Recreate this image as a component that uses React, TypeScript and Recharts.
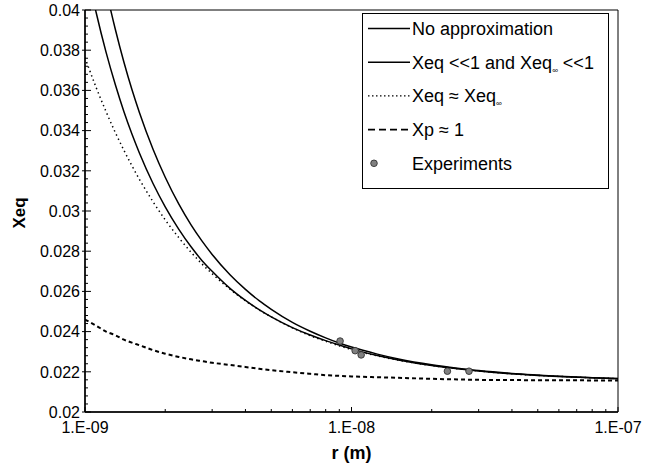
import React from 'react';
import { ComposedChart, Line, Scatter, XAxis, YAxis, ReferenceArea, Legend } from 'recharts';

// ---------- data ----------
const radius = [
  1e-9, 1.1e-9, 1.2e-9, 1.3e-9, 1.4e-9, 1.5e-9, 1.6e-9, 1.8e-9, 2e-9, 2.25e-9, 2.5e-9, 2.75e-9,
  3e-9, 3.5e-9, 4e-9, 4.5e-9, 5e-9, 6e-9, 7e-9, 8e-9, 9e-9, 1e-8, 1.25e-8, 1.5e-8, 2e-8, 2.5e-8,
  3e-8, 4e-8, 5e-8, 6e-8, 7e-8, 8e-8, 1e-7,
];
const noApprox = [
  0.04667, 0.04349, 0.04101, 0.03903, 0.0374, 0.03604, 0.0349, 0.03307, 0.03168, 0.03034, 0.02931, 0.0285,
  0.02784, 0.02683, 0.0261, 0.02554, 0.02511, 0.02446, 0.02402, 0.02369, 0.02343, 0.02323, 0.02288, 0.02264, 0.02235, 0.02218,
  0.02206, 0.02192, 0.02184, 0.02178, 0.02174, 0.02171, 0.02167,
];
const smallXeq = [
  0.04244, 0.0399, 0.03789, 0.03628, 0.03494, 0.03383, 0.03289, 0.03137, 0.03021, 0.02909, 0.02822, 0.02753,
  0.027, 0.02615, 0.02555, 0.02509, 0.02473, 0.0242, 0.02383, 0.02355, 0.02333, 0.02314, 0.02281, 0.02259, 0.02231, 0.02215,
  0.02204, 0.0219, 0.02182, 0.02177, 0.02173, 0.0217, 0.02166,
];
const xeqApprox = [
  0.03763, 0.03616, 0.03494, 0.0339, 0.03302, 0.03225, 0.03158, 0.03046, 0.02956, 0.02867, 0.02795, 0.02736,
  0.02688, 0.02611, 0.02553, 0.02508, 0.02473, 0.02419, 0.0238, 0.02352, 0.02329, 0.02311, 0.02279, 0.02258, 0.02231, 0.02215,
  0.02204, 0.0219, 0.02182, 0.02177, 0.02173, 0.0217, 0.02166,
];
const xpApprox = [
  0.0246, 0.0243, 0.024, 0.02382, 0.0236, 0.02345, 0.02332, 0.02308, 0.0229, 0.02274, 0.02262, 0.02253,
  0.02245, 0.02234, 0.02224, 0.02215, 0.02208, 0.02198, 0.0219, 0.02183, 0.0218, 0.02177, 0.02173, 0.0217, 0.02165, 0.02162,
  0.0216, 0.02159, 0.02158, 0.02158, 0.02158, 0.02157, 0.02157,
];
const expRadius = [9.06e-9, 1.032e-8, 1.087e-8, 2.29e-8, 2.76e-8];
const expXeq = [0.02353, 0.02305, 0.02284, 0.02203, 0.02203];

const xMajorTicks = [1e-9, 1e-8, 1e-7];
const xTickLabels = ['1.E-09', '1.E-08', '1.E-07'];
const xMinorMantissas = [2, 3, 4, 5, 6, 7, 8, 9];
const yMajorTicks = [0.02, 0.022, 0.024, 0.026, 0.028, 0.03, 0.032, 0.034, 0.036, 0.038, 0.04];
const yTickLabels = ['0.02', '0.022', '0.024', '0.026', '0.028', '0.03', '0.032', '0.034', '0.036', '0.038', '0.04'];
const yMinorStep = 0.0004;

// ---------- derived tables ----------
const data = radius.map((r, i) => ({
  r,
  noApprox: noApprox[i],
  smallXeq: smallXeq[i],
  xeqApprox: xeqApprox[i],
  xpApprox: xpApprox[i],
}));
const expData = expRadius.map((r, i) => ({ r, xeq: expXeq[i] }));

const xTicks: number[] = [];
[1e-9, 1e-8].forEach((dec) => {
  xTicks.push(dec);
  xMinorMantissas.forEach((m) => xTicks.push(m * dec));
});
xTicks.push(1e-7);

const yTicks: number[] = [];
for (let i = 0; i <= 50; i++) yTicks.push(Number((0.02 + i * yMinorStep).toFixed(5)));

const FONT = '"Liberation Sans", Arial, Helvetica, sans-serif';

const findIdx = (arr: number[], v: number) =>
  arr.findIndex((t) => Math.abs(t - v) <= Math.abs(t) * 1e-6);

const YTick = (props: any) => {
  const { x, y, payload } = props;
  const idx = findIdx(yMajorTicks, payload.value);
  const major = idx >= 0;
  return (
    <g>
      <line x1={x - (major ? 3 : 0)} x2={x + (major ? 6 : 3)} y1={y} y2={y} stroke="#000" strokeWidth={1} />
      {major && (
        <text x={x - 5} y={y + 5.7} textAnchor="end" fontFamily={FONT} fontSize={16} fill="#000">
          {yTickLabels[idx]}
        </text>
      )}
    </g>
  );
};

const XTick = (props: any) => {
  const { x, y, payload } = props;
  const idx = findIdx(xMajorTicks, payload.value);
  const major = idx >= 0;
  return (
    <g>
      <line x1={x} x2={x} y1={y} y2={y - (major ? 5 : 3)} stroke="#000" strokeWidth={1} />
      {major && (
        <text x={x} y={y + 21} textAnchor="middle" fontFamily={FONT} fontSize={16} fill="#000">
          {xTickLabels[idx]}
        </text>
      )}
    </g>
  );
};

const YTitle = (props: any) => {
  const vb = props.viewBox;
  const cx = vb.x + 25;
  const cy = vb.y + vb.height / 2 + 2;
  return (
    <text
      x={cx}
      y={cy}
      transform={`rotate(-90, ${cx}, ${cy})`}
      textAnchor="middle"
      fontFamily={FONT}
      fontWeight="bold"
      fontSize={17}
      fill="#000"
    >
      Xeq
    </text>
  );
};

const XTitle = (props: any) => {
  const vb = props.viewBox;
  return (
    <text
      x={vb.x + vb.width / 2}
      y={vb.y + 47}
      textAnchor="middle"
      fontFamily={FONT}
      fontWeight="bold"
      fontSize={18}
      fill="#000"
    >
      r (m)
    </text>
  );
};

const Sub = ({ children }: { children: React.ReactNode }) => (
  <tspan fontSize={8} dy={4}>
    {children}
  </tspan>
);

const legendRows = [
  { key: 'noApprox', kind: 'solid' },
  { key: 'smallXeq', kind: 'solid' },
  { key: 'xeqApprox', kind: 'dotted' },
  { key: 'xpApprox', kind: 'dashed' },
  { key: 'exp', kind: 'marker' },
];

const renderLabel = (key: string) => {
  switch (key) {
    case 'noApprox':
      return 'No approximation';
    case 'smallXeq':
      return (
        <>
          Xeq {'<<'}1 and Xeq<Sub>∞</Sub>
          <tspan dy={-4}> {'<<'}1</tspan>
        </>
      );
    case 'xeqApprox':
      return (
        <>
          Xeq ≈ Xeq<Sub>∞</Sub>
        </>
      );
    case 'xpApprox':
      return 'Xp ≈ 1';
    default:
      return 'Experiments';
  }
};

const LegendBox = () => {
  const rowY = [15.5, 49.2, 82.9, 116.6, 150.3];
  return (
    <svg width={247} height={176} style={{ display: 'block' }}>
      <rect x={0.5} y={0.5} width={246} height={175} fill="#fff" stroke="#000" strokeWidth={1} />
      {legendRows.map((row, i) => {
        const cy = rowY[i];
        let sample: React.ReactNode = null;
        if (row.kind === 'solid') {
          sample = <line x1={6} x2={48} y1={cy} y2={cy} stroke="#000" strokeWidth={1.5} />;
        } else if (row.kind === 'dotted') {
          sample = <line x1={6} x2={48} y1={cy} y2={cy} stroke="#000" strokeWidth={1.2} strokeDasharray="1.5 2.5" />;
        } else if (row.kind === 'dashed') {
          sample = <line x1={6} x2={48} y1={cy} y2={cy} stroke="#000" strokeWidth={1.8} strokeDasharray="7 4" />;
        } else {
          sample = <circle cx={12} cy={cy} r={3.3} fill="#808080" stroke="#333" strokeWidth={0.9} />;
        }
        return (
          <g key={row.key}>
            {sample}
            <text x={50} y={cy + 6.5} fontFamily={FONT} fontSize={18} fill="#000">
              {renderLabel(row.key)}
            </text>
          </g>
        );
      })}
    </svg>
  );
};

const ExpDot = (props: any) => {
  const { cx, cy } = props;
  if (cx == null || cy == null) return <g />;
  return <circle cx={cx} cy={cy} r={3.3} fill="#808080" stroke="#333" strokeWidth={0.9} />;
};

export default function App() {
  return (
    <div style={{ position: 'absolute', left: 0, top: 0, width: 658, height: 466, background: '#fff' }}>
      <ComposedChart
        width={658}
        height={466}
        data={data}
        margin={{ top: 10, right: 40, bottom: 0, left: 0 }}
      >
        <XAxis
          dataKey="r"
          type="number"
          scale="log"
          domain={[1e-9, 1e-7]}
          ticks={xTicks}
          interval={0}
          allowDataOverflow
          height={54}
          tickSize={0}
          tickMargin={0}
          tickLine={false}
          tick={<XTick />}
          axisLine={{ stroke: '#000', strokeWidth: 1.5 }}
          label={<XTitle />}
        />
        <YAxis
          type="number"
          domain={[0.02, 0.04]}
          ticks={yTicks}
          interval={0}
          allowDataOverflow
          width={85}
          tickSize={0}
          tickMargin={0}
          tickLine={false}
          tick={<YTick />}
          axisLine={{ stroke: '#000', strokeWidth: 1.5 }}
          label={<YTitle />}
        />
        <ReferenceArea
          x1={1e-9}
          x2={1e-7}
          y1={0.02}
          y2={0.04}
          fill="none"
          fillOpacity={0}
          stroke="#000"
          strokeWidth={1}
        />
        <Line
          dataKey="xpApprox"
          type="monotone"
          stroke="#000"
          strokeWidth={2}
          strokeDasharray="4 3"
          dot={false}
          activeDot={false}
          isAnimationActive={false}
        />
        <Line
          dataKey="xeqApprox"
          type="monotone"
          stroke="#000"
          strokeWidth={1.5}
          strokeDasharray="1.4 3.2"
          dot={false}
          activeDot={false}
          isAnimationActive={false}
        />
        <Line
          dataKey="smallXeq"
          type="monotone"
          stroke="#000"
          strokeWidth={1.5}
          dot={false}
          activeDot={false}
          isAnimationActive={false}
        />
        <Line
          dataKey="noApprox"
          type="monotone"
          stroke="#000"
          strokeWidth={1.5}
          dot={false}
          activeDot={false}
          isAnimationActive={false}
        />
        <Scatter data={expData} dataKey="xeq" shape={<ExpDot />} isAnimationActive={false} />
        <Legend
          layout="vertical"
          align="center"
          verticalAlign="middle"
          content={<LegendBox />}
          wrapperStyle={{ position: 'absolute', left: 362, top: 13, width: 247, height: 176 }}
        />
      </ComposedChart>
    </div>
  );
}
